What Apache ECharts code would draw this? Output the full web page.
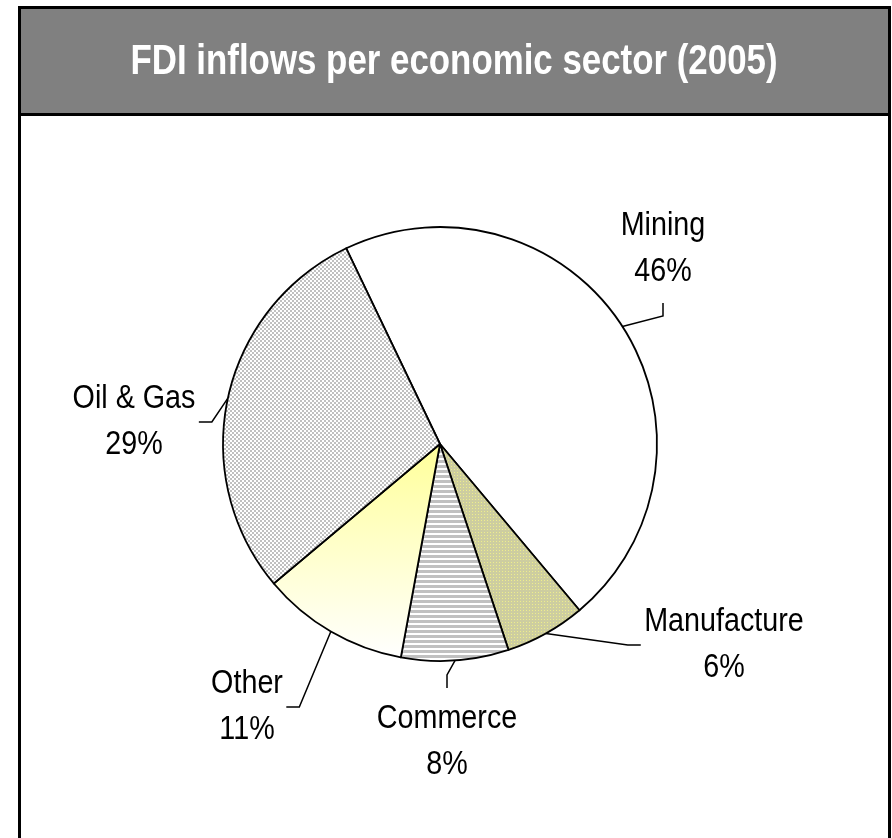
<!DOCTYPE html>
<html><head><meta charset="utf-8">
<script src="https://cdn.jsdelivr.net/npm/echarts@6/dist/echarts.min.js"></script>
<style>html,body{margin:0;padding:0;background:#fff}#chart{width:892px;height:838px}</style>
</head><body><div id="chart"></div>
<script>
// ---- data ----
const titleText = 'FDI inflows per economic sector (2005)';
const sectors = ['Mining', 'Manufacture', 'Commerce', 'Other', 'Oil & Gas'];
const shares = [46, 6, 8, 11, 29];

// ---- layout (positions of labels, not data) ----
const labelCenters = [[663, 249], [724, 645], [447, 742], [247, 707], [134, 422]];
const labelSides = ['bottom', 'left', 'top', 'right', 'right'];
const leaderTail = 13;
const LABEL_SCALE = 0.845;   // horizontal condensing (Arial Narrow look)
const TITLE_SCALE = 0.83;
const labelFont = "'Liberation Sans', Arial, sans-serif";

function makeCanvas(w, h, draw) {
  const c = document.createElement('canvas'); c.width = w; c.height = h;
  draw(c.getContext('2d')); return c;
}
const checker = makeCanvas(4, 4, g => { g.fillStyle = '#fff'; g.fillRect(0,0,4,4); g.fillStyle = '#c0c0c0'; g.fillRect(0,0,2,2); g.fillRect(2,2,2,2); });
const stripes = makeCanvas(5, 5, g => { g.fillStyle = '#fff'; g.fillRect(0,0,5,5); g.fillStyle = '#c0c0c0'; g.fillRect(0,0,5,3); });
const dots = makeCanvas(3, 3, g => { g.fillStyle = '#cdcda0'; g.fillRect(0,0,3,3); g.fillStyle = '#eeee8c'; g.fillRect(1,1,1,1); });

const fills = [
  '#ffffff',
  { image: dots, repeat: 'repeat' },
  { image: stripes, repeat: 'repeat' },
  new echarts.graphic.LinearGradient(0, 0, 0, 1, [{ offset: 0, color: '#ffff99' }, { offset: 1, color: '#ffffff' }]),
  { image: checker, repeat: 'repeat' }
];

const chart = echarts.init(document.getElementById('chart'), null, { renderer: 'canvas' });
chart.setOption({
  animation: false,
  backgroundColor: '#ffffff',
  graphic: [
    { type: 'rect', z: 0, silent: true, shape: { x: 19.5, y: 7.5, width: 870, height: 107 }, style: { fill: '#808080', stroke: '#000', lineWidth: 3 } },
    { type: 'text', z: 10, silent: true, x: 454, y: 62, scaleX: TITLE_SCALE,
      style: { text: titleText, fill: '#ffffff', font: "bold 42px 'Liberation Sans', Arial, sans-serif", align: 'center', verticalAlign: 'middle' } },
    { type: 'rect', z: 100, silent: true, shape: { x: 19.5, y: 7.5, width: 870, height: 900 }, style: { fill: null, stroke: '#000', lineWidth: 3 } }
  ],
  series: [{
    type: 'pie',
    center: [440, 444],
    radius: 217,
    startAngle: 115.6,
    clockwise: true,
    avoidLabelOverlap: false,
    percentPrecision: 0,
    silent: true,
    itemStyle: { borderColor: '#000', borderWidth: 1.8 },
    label: {
      show: true, position: 'outside', formatter: '{b}\n{d}%',
      fontFamily: labelFont, fontSize: 34, lineHeight: 46, color: '#000',
      padding: [8, 4], align: 'center'
    },
    labelLine: { show: true, length: 20, length2: leaderTail, smooth: false, lineStyle: { color: '#000', width: 1.5 } },
    labelLayout: function (p) {
      const i = p.dataIndex;
      const cx = labelCenters[i][0], cy = labelCenters[i][1];
      const w = p.labelRect.width * LABEL_SCALE, h = p.labelRect.height;
      const rx = cx - w / 2, ry = cy - h / 2;
      let a, d;
      switch (labelSides[i]) {
        case 'bottom': a = [cx, ry + h]; d = [0, 1]; break;
        case 'top': a = [cx, ry]; d = [0, -1]; break;
        case 'left': a = [rx, cy]; d = [-1, 0]; break;
        default: a = [rx + w, cy]; d = [1, 0];
      }
      const start = p.labelLinePoints[0];
      const elbow = [a[0] + d[0] * leaderTail, a[1] + d[1] * leaderTail];
      return { x: cx, y: cy, align: 'center', verticalAlign: 'middle', labelLinePoints: [start, elbow, a] };
    },
    data: sectors.map((n, i) => ({ name: n, value: shares[i], itemStyle: { color: fills[i] } }))
  }]
});

// condense the series labels horizontally (no narrow font installed)
function condenseLabels() {
  const zr = chart.getZr();
  function visit(el) {
    if (!el) return;
    const t = el.getTextContent && el.getTextContent();
    if (t && t.style && typeof t.style.text === 'string' && t.style.text.indexOf('%') >= 0) {
      t.scaleX = LABEL_SCALE;
      t.markRedraw();
      el.markRedraw();
    }
    if (el.isGroup && el.childrenRef) el.childrenRef().forEach(visit);
  }
  zr.storage.getRoots().forEach(visit);
  zr.refreshImmediately();
}
condenseLabels();
chart.on('finished', function once() { chart.off('finished', once); condenseLabels(); });
</script>
</body></html>
